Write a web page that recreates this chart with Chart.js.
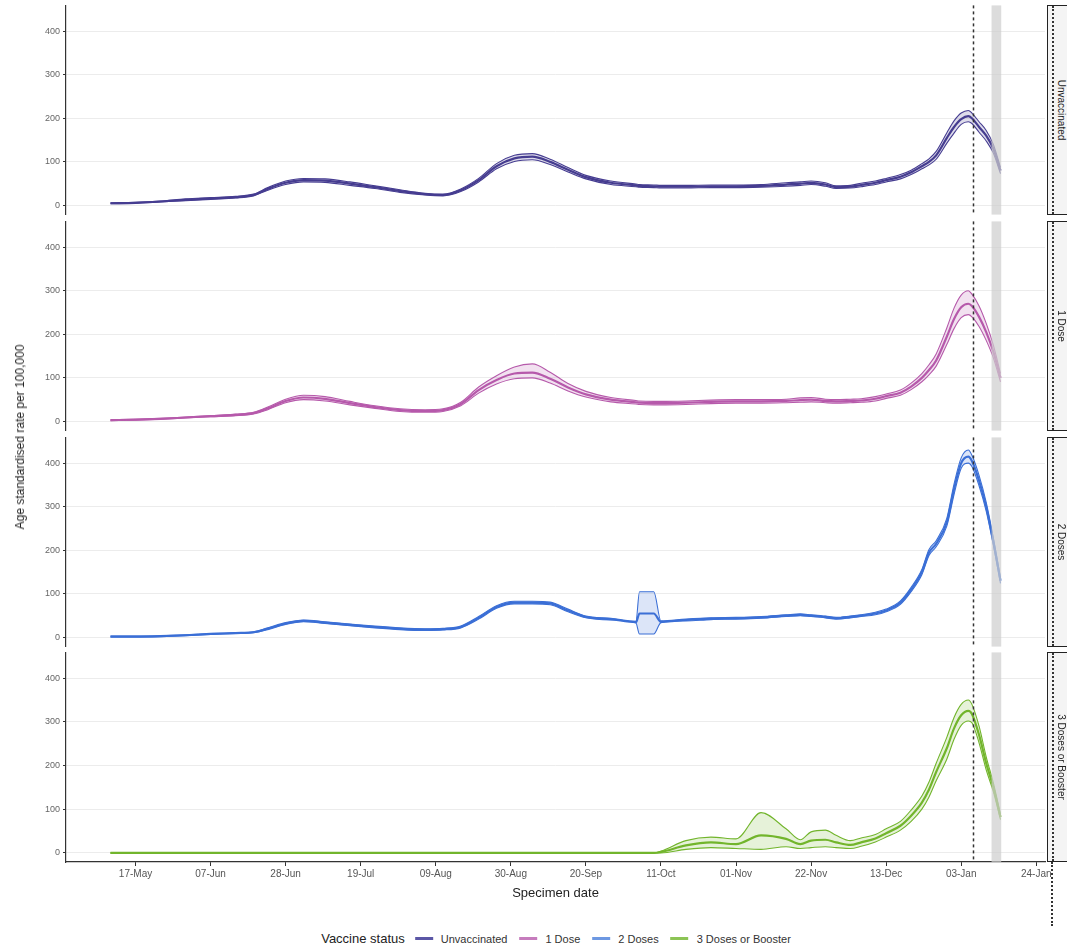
<!DOCTYPE html>
<html>
<head>
<meta charset="utf-8">
<script src="https://cdn.jsdelivr.net/npm/chart.js@4.4.1/dist/chart.umd.min.js"></script>
<style>
  body { margin: 0; width: 1067px; height: 951px; overflow: hidden; position: relative; background: #fff;
         font-family: "Liberation Sans", Arial, sans-serif; }
  canvas { position: absolute; left: 0; }
  .strip { position: absolute; left: 1047px; width: 34px; height: 210px; box-sizing: border-box;
           border: 1px solid #222; background: #f4f4f4; }
  .strip::before { content: ""; position: absolute; left: 4px; top: 0; bottom: 0; border-left: 2px dotted #333; }
  .strip span { position: absolute; left: 13px; top: 50%; white-space: nowrap; font-size: 10px; color: #222;
                transform: translate(-50%, -50%) rotate(90deg); transform-origin: center; }
  #ytitle { position: absolute; left: 20px; top: 437px; transform: translate(-50%, -50%) rotate(-90deg);
            white-space: nowrap; font-size: 12px; color: #222; }
  #legend { position: absolute; top: 931px; left: 562px; transform: translateX(-50%); display: flex;
            align-items: center; white-space: nowrap; color: #222; }
  #legend .ttl { font-size: 13px; margin-right: 10px; }
  #legend .key { display: inline-block; width: 18px; height: 3px; margin-right: 8px; }
  #legend .lab { font-size: 11px; margin-right: 12px; color: #333; }
  #tail { position: absolute; left: 1051px; top: 862px; height: 64px; border-left: 2px dotted #333; }
</style>
</head>
<body>
<canvas id="p1" width="1067" height="226"></canvas>
<canvas id="p2" width="1067" height="226"></canvas>
<canvas id="p3" width="1067" height="226"></canvas>
<canvas id="p4" width="1067" height="262"></canvas>
<div id="ytitle">Age standardised rate per 100,000</div>
<div id="tail"></div>
<div id="legend"></div>
<script>
// Specimen dates as day offsets from 10 May 2021
const days = [0, 7, 14, 21, 28, 35, 40, 44, 49, 54, 60, 67, 74, 81, 88, 93, 98, 103, 108, 113,
  118, 123, 128, 133, 140, 147, 148, 152, 154, 161, 168, 175, 182, 189, 193, 196, 200, 203, 207, 210,
  214, 217, 221, 224, 227, 229, 231, 234, 236, 238, 240, 241, 243, 245, 247, 249];

const xTickDays = [7, 28, 49, 70, 91, 112, 133, 154, 175, 196, 217, 238, 259];
const xTickLabels = ['17-May', '07-Jun', '28-Jun', '19-Jul', '09-Aug', '30-Aug', '20-Sep',
  '11-Oct', '01-Nov', '22-Nov', '13-Dec', '03-Jan', '24-Jan'];
const yTickValues = [0, 100, 200, 300, 400];

const statusNames = ['Unvaccinated', '1 Dose', '2 Doses', '3 Doses or Booster'];

// Unvaccinated
const unvacc = [5, 6, 9, 13, 16, 19, 24, 38, 52, 58, 57, 50, 42, 33, 26, 24, 35, 58, 90, 108,
  112, 100, 82, 65, 52, 46, 45, 44, 43, 43, 44, 44, 45, 48, 50, 52, 48, 42, 43, 47,
  52, 58, 66, 76, 90, 100, 115, 155, 180, 198, 205, 200, 180, 160, 130, 80];
const unvaccLo = [4, 5, 8, 11, 14, 17, 22, 35, 48, 54, 53, 46, 39, 30, 24, 22, 32, 54, 84, 101,
  105, 94, 77, 61, 48, 43, 42, 41, 40, 40, 41, 41, 42, 44, 46, 48, 44, 39, 40, 43,
  48, 54, 61, 71, 84, 93, 106, 143, 166, 186, 192, 188, 168, 148, 120, 73];
const unvaccHi = [6, 7, 10, 15, 18, 21, 26, 41, 56, 62, 61, 54, 45, 36, 28, 26, 38, 62, 96, 115,
  119, 106, 87, 69, 56, 49, 48, 47, 46, 46, 47, 47, 48, 52, 54, 56, 52, 45, 46, 51,
  56, 62, 71, 81, 96, 107, 124, 167, 194, 212, 218, 212, 192, 172, 140, 87];

// 1 Dose
const dose1 = [3, 4, 6, 9, 12, 15, 19, 30, 47, 55, 52, 42, 33, 26, 24, 26, 40, 72, 95, 110,
  112, 98, 78, 62, 50, 44, 43, 42, 42, 43, 45, 46, 46, 47, 49, 50, 47, 46, 47, 48,
  52, 58, 66, 80, 100, 118, 140, 195, 235, 262, 270, 265, 240, 205, 160, 100];
const dose1Lo = [2, 3, 5, 8, 11, 13, 17, 27, 43, 50, 47, 38, 30, 23, 21, 23, 36, 65, 86, 98,
  100, 88, 70, 56, 45, 40, 39, 38, 38, 39, 41, 42, 42, 43, 44, 45, 43, 42, 43, 44,
  47, 53, 60, 73, 91, 107, 127, 177, 213, 238, 245, 240, 218, 186, 146, 91];
const dose1Hi = [4, 5, 7, 10, 13, 17, 21, 33, 51, 60, 57, 46, 36, 29, 27, 29, 44, 79, 105, 125,
  132, 113, 87, 69, 55, 48, 47, 46, 46, 47, 49, 50, 50, 51, 54, 55, 51, 50, 51, 52,
  57, 63, 72, 88, 110, 130, 155, 215, 260, 290, 300, 292, 265, 225, 175, 110];

// 2 Doses
const dose2 = [2, 2, 3, 5, 8, 10, 12, 20, 32, 38, 34, 29, 24, 20, 18, 19, 24, 45, 70, 80,
  80, 78, 62, 47, 42, 35, 55, 55, 36, 40, 43, 44, 46, 50, 52, 50, 47, 44, 47, 50,
  55, 62, 80, 110, 150, 195, 215, 265, 340, 400, 415, 405, 360, 300, 220, 130];
const dose2Lo = [1, 1, 2, 4, 7, 9, 11, 18, 30, 36, 32, 27, 22, 18, 16, 17, 22, 42, 67, 77,
  77, 75, 59, 45, 40, 33, 8, 8, 34, 38, 41, 42, 44, 48, 50, 48, 45, 42, 45, 48,
  52, 59, 76, 105, 144, 188, 208, 256, 328, 388, 400, 392, 348, 290, 212, 124];
const dose2Hi = [3, 3, 4, 6, 9, 11, 13, 22, 34, 40, 36, 31, 26, 22, 20, 21, 26, 48, 73, 83,
  83, 81, 65, 49, 44, 37, 105, 105, 38, 42, 45, 46, 48, 52, 54, 52, 49, 46, 49, 52,
  58, 65, 84, 115, 156, 202, 222, 274, 352, 412, 430, 418, 372, 310, 228, 136];

// 3 Doses or Booster
const dose3 = [0, 0, 0, 0, 0, 0, 0, 0, 0, 0, 0, 0, 0, 0, 0, 0, 0, 0, 0, 0,
  0, 0, 0, 0, 0, 0, 0, 0, 2, 17, 24, 20, 40, 32, 20, 28, 30, 24, 18, 24,
  33, 45, 62, 85, 115, 145, 185, 240, 285, 315, 325, 318, 270, 205, 150, 82];
const dose3Lo = [0, 0, 0, 0, 0, 0, 0, 0, 0, 0, 0, 0, 0, 0, 0, 0, 0, 0, 0, 0,
  0, 0, 0, 0, 0, 0, 0, 0, 0, 8, 12, 10, 8, 14, 10, 12, 14, 12, 10, 15,
  25, 36, 52, 72, 100, 128, 165, 215, 260, 292, 302, 298, 252, 190, 140, 76];
const dose3Hi = [0, 0, 0, 0, 0, 0, 0, 0, 0, 0, 0, 0, 0, 0, 0, 0, 0, 0, 0, 0,
  0, 0, 0, 0, 0, 0, 0, 0, 4, 28, 36, 32, 92, 55, 30, 48, 52, 40, 28, 34,
  42, 55, 72, 98, 130, 162, 205, 265, 310, 340, 350, 340, 290, 220, 160, 88];

// Reference date line and the shaded (incomplete data) window, in day offsets
const refLineDay = 241.2;
const shadeFrom = 246.5;
const shadeTo = 249.2;

const colours = ['#463d91', '#b65aab', '#3b6fd6', '#72b52c'];
const fills = ['rgba(70,61,145,0.18)', 'rgba(182,90,171,0.18)', 'rgba(59,111,214,0.18)', 'rgba(114,181,44,0.18)'];
const keyColours = ['#5b57a6', '#c67cbd', '#6d98e2', '#8cc455'];

const series = [
  [unvacc, unvaccLo, unvaccHi],
  [dose1, dose1Lo, dose1Hi],
  [dose2, dose2Lo, dose2Hi],
  [dose3, dose3Lo, dose3Hi]
];
const panelTops = [5, 221, 437, 652];
const PAD = 8;

const toPoints = vals => days.map((d, i) => ({ x: d, y: vals[i] }));

const markers = {
  id: 'markers',
  afterDatasetsDraw(chart) {
    const { ctx, chartArea: a, scales: { x } } = chart;
    ctx.save();
    const x0 = x.getPixelForValue(shadeFrom), x1 = x.getPixelForValue(shadeTo);
    ctx.fillStyle = 'rgba(205,205,205,0.7)';
    ctx.fillRect(x0, a.top, x1 - x0, a.bottom - a.top);
    const xl = Math.round(x.getPixelForValue(refLineDay)) + 0.5;
    ctx.strokeStyle = '#333';
    ctx.lineWidth = 1.5;
    ctx.setLineDash([3, 3]);
    ctx.beginPath();
    ctx.moveTo(xl, a.top);
    ctx.lineTo(xl, a.bottom);
    ctx.stroke();
    ctx.restore();
  }
};

Chart.defaults.font.family = '"Liberation Sans", Arial, sans-serif';

series.forEach((s, i) => {
  const bottom = i === 3;
  const cv = document.getElementById('p' + (i + 1));
  cv.style.top = (panelTops[i] - PAD) + 'px';
  const col = colours[i];
  const xScale = {
    type: 'linear', min: -12.45, max: 261.45, display: bottom,
    afterBuildTicks: sc => { sc.ticks = xTickDays.map(v => ({ value: v })); },
    ticks: {
      autoSkip: false, maxRotation: 0, padding: 2, color: '#555', font: { size: 10 },
      callback: v => xTickLabels[xTickDays.indexOf(v)]
    },
    grid: { drawOnChartArea: false, drawTicks: true, tickLength: 4, tickColor: '#333' },
    border: { display: true, color: '#333', width: 1.2 },
    title: { display: true, text: 'Specimen date', color: '#222', font: { size: 13 }, padding: { top: 0, bottom: 5 } }
  };
  if (bottom) xScale.afterFit = sc => { sc.height = 44; };
  new Chart(cv, {
    type: 'line',
    data: {
      datasets: [
        { data: toPoints(s[1]), borderColor: col, borderWidth: 1.1, fill: false },
        { data: toPoints(s[2]), borderColor: col, borderWidth: 1.1, fill: '-1', backgroundColor: fills[i] },
        { data: toPoints(s[0]), borderColor: col, borderWidth: 2.2, fill: false }
      ]
    },
    options: {
      responsive: false,
      animation: false,
      layout: { padding: { left: 0, right: 22, top: PAD, bottom: bottom ? 0 : PAD } },
      elements: { point: { radius: 0 }, line: { cubicInterpolationMode: 'monotone' } },
      plugins: { legend: { display: false }, tooltip: { enabled: false } },
      scales: {
        x: xScale,
        y: {
          min: -21, max: 459,
          afterBuildTicks: sc => { sc.ticks = yTickValues.map(v => ({ value: v })); },
          afterFit: sc => { sc.width = 66; },
          ticks: { padding: 3, color: '#666', font: { size: 9 } },
          grid: { color: '#ececec', lineWidth: 1, tickLength: 3, tickColor: '#333' },
          border: { display: true, color: '#333', width: 1.2 }
        }
      }
    },
    plugins: [markers]
  });

  const strip = document.createElement('div');
  strip.className = 'strip';
  strip.style.top = panelTops[i] + 'px';
  const t = document.createElement('span');
  t.textContent = statusNames[i];
  strip.appendChild(t);
  document.body.appendChild(strip);
});

// Legend
const legend = document.getElementById('legend');
const ttl = document.createElement('span');
ttl.className = 'ttl';
ttl.textContent = 'Vaccine status';
legend.appendChild(ttl);
statusNames.forEach((name, i) => {
  const k = document.createElement('span');
  k.className = 'key';
  k.style.background = keyColours[i];
  const l = document.createElement('span');
  l.className = 'lab';
  l.textContent = name;
  legend.appendChild(k);
  legend.appendChild(l);
});
</script>
</body>
</html>
